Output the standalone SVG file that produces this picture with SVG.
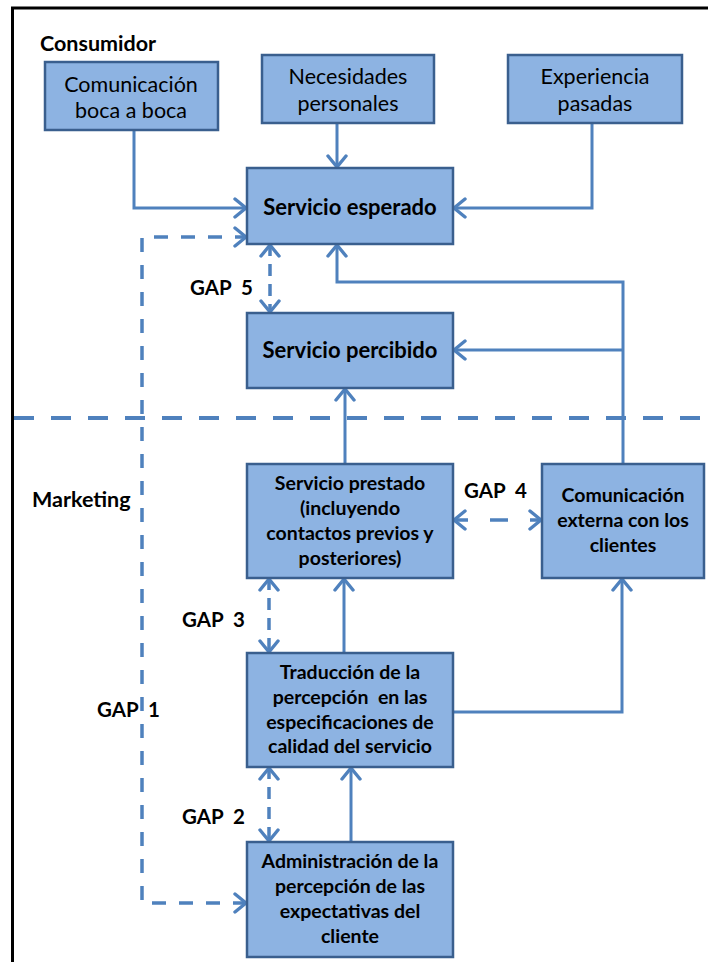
<svg xmlns="http://www.w3.org/2000/svg" width="708" height="962" viewBox="0 0 708 962">
  <style>
    .box { fill: #8DB3E2; stroke: #3A5F8E; stroke-width: 2.5; }
    .t { font-family: Lato, "Open Sans", sans-serif; fill: #000; text-anchor: middle; }
    .r { font-size: 21.5px; }
    .h { font-weight: bold; font-size: 22px; }
    .s { font-weight: bold; font-size: 19.5px; }
    .lbl { font-family: Lato, "Open Sans", sans-serif; font-weight: bold; font-size: 21.5px; fill: #000; }
    .g { font-family: Lato, "Open Sans", sans-serif; font-weight: bold; font-size: 20.5px; fill: #000; }
    .link { fill: none; stroke: #4F81BD; stroke-width: 3; }
    .gap { fill: none; stroke: #4F81BD; stroke-width: 3.5; stroke-dasharray: 14 13; }
    .gapv { fill: none; stroke: #4F81BD; stroke-width: 3.5; stroke-dasharray: 12 8; }
  </style>
  <defs>
    <marker id="arr" markerUnits="userSpaceOnUse" viewBox="0 0 17 22" markerWidth="17" markerHeight="22" refX="15" refY="11" orient="auto-start-reverse">
      <path d="M3,2 L14,11 L3,20" fill="none" stroke="#4F81BD" stroke-width="3.4" stroke-dasharray="none" stroke-linecap="round" stroke-linejoin="round"/>
    </marker>
  </defs>

  <!-- outer frame -->
  <g id="frame">
    <path d="M12.5,962 L12.5,8 L708,8" fill="none" stroke="#000" stroke-width="3"/>
  </g>

  <!-- boundary between consumer and marketing zones -->
  <line x1="14" y1="418" x2="708" y2="418" stroke="#4F81BD" stroke-width="4" stroke-dasharray="20 17"/>

  <text class="lbl" x="40" y="51">Consumidor</text>
  <text class="lbl" x="32" y="507">Marketing</text>

  <g id="connectors">
    <!-- inputs to expected service -->
    <path class="link" d="M134,130 L134,208 L247,208" marker-end="url(#arr)"/>
    <path class="link" d="M337,123 L337,168" marker-end="url(#arr)"/>
    <path class="link" d="M592,123 L592,208 L453,208" marker-end="url(#arr)"/>
    <!-- external communication feedback -->
    <path class="link" d="M623,464 L623,282 L337,282 L337,244" marker-end="url(#arr)"/>
    <path class="link" d="M623,350 L453,350" marker-end="url(#arr)"/>
    <!-- delivery chain -->
    <path class="link" d="M345,464 L345,388" marker-end="url(#arr)"/>
    <path class="link" d="M344,653 L344,578" marker-end="url(#arr)"/>
    <path class="link" d="M351,842 L351,767" marker-end="url(#arr)"/>
    <path class="link" d="M453,712 L622,712 L622,578" marker-end="url(#arr)"/>
    <!-- gaps -->
    <path class="gap" d="M247,903 L142,903 L142,237 L247,237" marker-start="url(#arr)" marker-end="url(#arr)"/>
    <path class="gapv" d="M270,244 L270,313" marker-start="url(#arr)" marker-end="url(#arr)"/>
    <path class="gapv" d="M453,520 L542,520" style="stroke-dasharray: 15 22 18 22 15 0" marker-start="url(#arr)" marker-end="url(#arr)"/>
    <path class="gapv" d="M269,578 L269,653" marker-start="url(#arr)" marker-end="url(#arr)"/>
    <path class="gapv" d="M269,767 L269,842" marker-start="url(#arr)" marker-end="url(#arr)"/>
  </g>

  <g id="gap-labels">
    <text class="g" x="190" y="295" xml:space="preserve">GAP  5</text>
    <text class="g" x="464" y="498" xml:space="preserve">GAP  4</text>
    <text class="g" x="182" y="627" xml:space="preserve">GAP  3</text>
    <text class="g" x="97" y="717" xml:space="preserve">GAP  1</text>
    <text class="g" x="182" y="824" xml:space="preserve">GAP  2</text>
  </g>

  <g id="boca-a-boca">
    <rect class="box" x="45" y="62" width="173" height="68"/>
    <text class="t r" x="131" y="92">Comunicación</text>
    <text class="t r" x="131" y="118">boca a boca</text>
  </g>
  <g id="necesidades">
    <rect class="box" x="262" y="55" width="172" height="68"/>
    <text class="t r" x="348" y="84">Necesidades</text>
    <text class="t r" x="348" y="111">personales</text>
  </g>
  <g id="experiencia">
    <rect class="box" x="508" y="55" width="174" height="68"/>
    <text class="t r" x="595" y="84">Experiencia</text>
    <text class="t r" x="595" y="111">pasadas</text>
  </g>
  <g id="servicio-esperado">
    <rect class="box" x="247" y="168" width="206" height="76"/>
    <text class="t h" x="350" y="215">Servicio esperado</text>
  </g>
  <g id="servicio-percibido">
    <rect class="box" x="247" y="313" width="206" height="75"/>
    <text class="t h" x="350" y="358">Servicio percibido</text>
  </g>
  <g id="servicio-prestado">
    <rect class="box" x="247" y="464" width="206" height="114"/>
    <text class="t s" x="350" y="490">Servicio prestado</text>
    <text class="t s" x="350" y="515">(incluyendo</text>
    <text class="t s" x="350" y="540">contactos previos y</text>
    <text class="t s" x="350" y="565">posteriores)</text>
  </g>
  <g id="comunicacion-externa">
    <rect class="box" x="542" y="464" width="162" height="114"/>
    <text class="t s" x="623" y="502">Comunicación</text>
    <text class="t s" x="623" y="527">externa con los</text>
    <text class="t s" x="623" y="552">clientes</text>
  </g>
  <g id="traduccion">
    <rect class="box" x="247" y="653" width="206" height="114"/>
    <text class="t s" x="350" y="679">Traducción de la</text>
    <text class="t s" x="350" y="704" xml:space="preserve">percepción  en las</text>
    <text class="t s" x="350" y="729">especificaciones de</text>
    <text class="t s" x="350" y="753">calidad del servicio</text>
  </g>
  <g id="administracion">
    <rect class="box" x="247" y="842" width="206" height="115"/>
    <text class="t s" x="350" y="868">Administración de la</text>
    <text class="t s" x="350" y="893">percepción de las</text>
    <text class="t s" x="350" y="918">expectativas del</text>
    <text class="t s" x="350" y="943">cliente</text>
  </g>
</svg>
